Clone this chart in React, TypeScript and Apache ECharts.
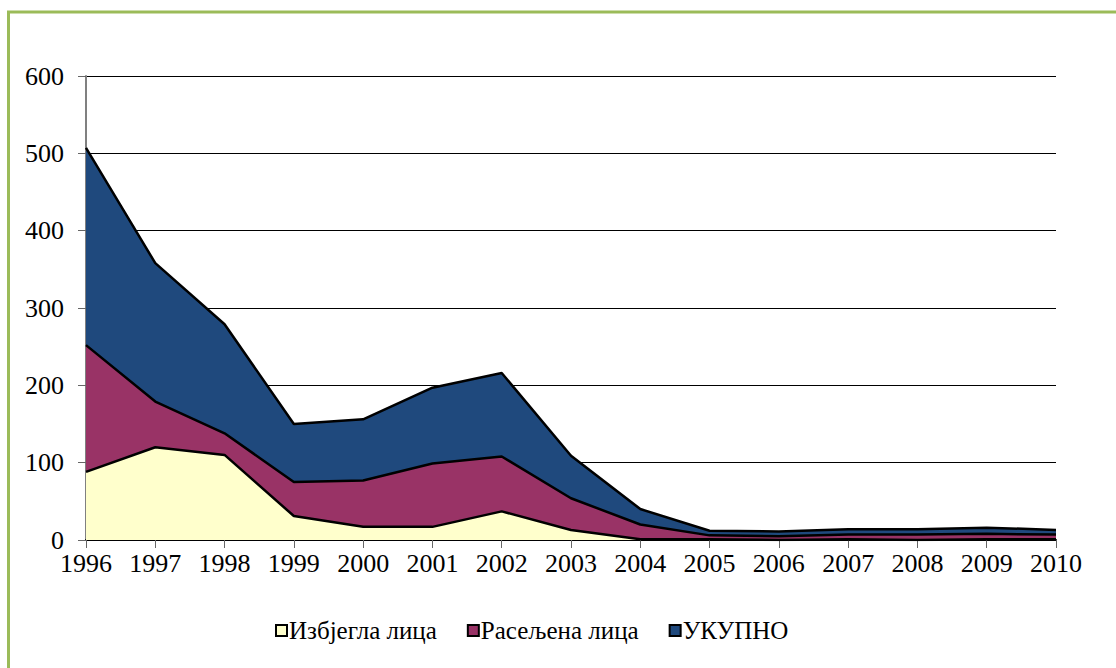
import React, { useEffect, useRef } from "react";
import * as echarts from "echarts";

const years = ["1996","1997","1998","1999","2000","2001","2002","2003","2004","2005","2006","2007","2008","2009","2010"];
const refugees = [88, 120, 110, 31, 17, 17, 37, 13, 1, 1, 0, 1, 0, 1, 1];
const displaced = [164, 59, 28, 44, 60, 82, 71, 41, 19, 5, 5, 6, 7, 7, 6];
const total = [255, 179, 141, 75, 79, 98, 108, 55, 20, 6, 6, 7, 7, 8, 6];
const seriesNames = ["Избјегла лица", "Расељена лица", "УКУПНО"];
const colors = ["#FFFFCC", "#993366", "#1F497D"];

const FONT = "Liberation Serif, Times New Roman, serif";

export default function App() {
  const ref = useRef<HTMLDivElement>(null);
  useEffect(() => {
    const chart = echarts.init(ref.current!, null, { renderer: "svg" });
    const datasets = [refugees, displaced, total];
    chart.setOption({
      animation: false,
      backgroundColor: "#fff",
      textStyle: { fontFamily: FONT },
      grid: { left: 86, right: 60, top: 76, bottom: 128 },
      legend: {
        bottom: 20,
        left: 270,
        itemWidth: 11,
        itemHeight: 11,
        itemGap: 30,
        icon: "rect",
        textStyle: { fontFamily: FONT, fontSize: 25, color: "#000", padding: [0, 0, 0, -3] },
        data: seriesNames.map((n) => ({ name: n, itemStyle: { borderColor: "#000", borderWidth: 2 } })),
      },
      xAxis: {
        type: "category",
        data: years,
        boundaryGap: false,
        axisLine: { lineStyle: { color: "#000", width: 2 } },
        axisTick: { show: true, length: 8, lineStyle: { color: "#666" }, alignWithLabel: true },
        axisLabel: { color: "#000", fontSize: 26, fontFamily: FONT, margin: 10 },
      },
      yAxis: {
        type: "value",
        min: 0,
        max: 600,
        interval: 100,
        axisLine: { show: true, lineStyle: { color: "#808080", width: 2 } },
        axisTick: { show: true, length: 8, lineStyle: { color: "#666" } },
        axisLabel: { color: "#000", fontSize: 26, fontFamily: FONT, margin: 22 },
        splitLine: { lineStyle: { color: "#000", width: 1 } },
      },
      series: seriesNames.map((name, i) => ({
        name,
        type: "line",
        stack: "all",
        data: datasets[i],
        showSymbol: false,
        symbol: "none",
        lineStyle: { color: "#000", width: 2.5 },
        itemStyle: { color: colors[i] },
        areaStyle: { color: colors[i], opacity: 1 },
        z: 3 - i,
      })),
      graphic: [
        { type: "line", shape: { x1: 7, y1: 12, x2: 1116, y2: 12 }, style: { stroke: "#9BBB59", lineWidth: 3 } },
        { type: "line", shape: { x1: 8.5, y1: 11, x2: 8.5, y2: 668 }, style: { stroke: "#9BBB59", lineWidth: 3 } },
      ],
    });
    return () => chart.dispose();
  }, []);
  return <div ref={ref} style={{ position: "fixed", left: 0, top: 0, width: 1116, height: 668 }} />;
}
